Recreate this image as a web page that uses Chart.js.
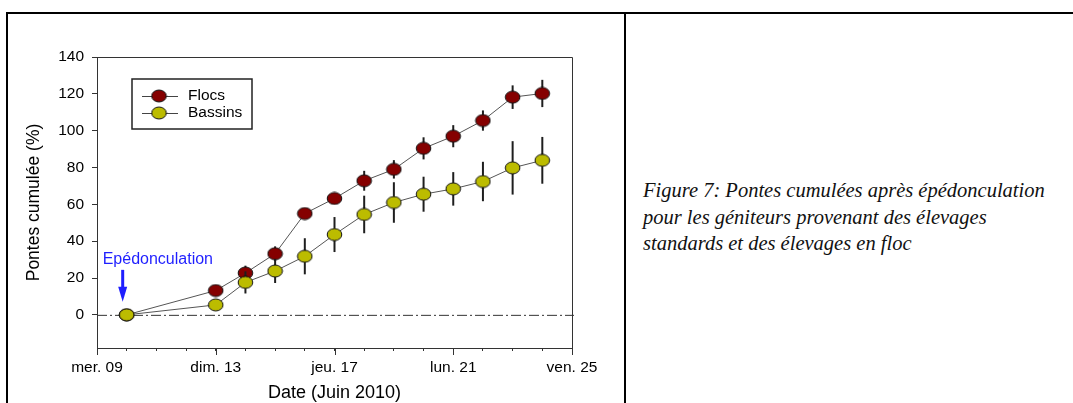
<!DOCTYPE html>
<html lang="fr">
<head>
<meta charset="utf-8">
<title>Pontes cumulées</title>
<script src="https://cdn.jsdelivr.net/npm/chart.js@4.4.1/dist/chart.umd.min.js"></script>
<style>
  html, body { margin: 0; padding: 0; background: #fff; }
  body { width: 1073px; height: 403px; position: relative; overflow: hidden; }
  .rule { position: absolute; background: #000; }
  #rule-top { left: 6px; top: 12px; width: 1067px; height: 2px; }
  #rule-left { left: 6px; top: 12px; width: 2px; height: 391px; }
  #rule-mid { left: 624px; top: 12px; width: 2px; height: 391px; }
  #myChart { position: absolute; left: 0; top: 0; }
  #caption {
    position: absolute; left: 643px; top: 177px;
    font-family: 'Liberation Serif', serif; font-style: italic;
    font-size: 20.5px; line-height: 26.5px; color: #111; white-space: nowrap;
  }
</style>
</head>
<body>
<canvas id="myChart" width="624" height="403"></canvas>
<div class="rule" id="rule-top"></div>
<div class="rule" id="rule-left"></div>
<div class="rule" id="rule-mid"></div>
<div id="caption">Figure 7: Pontes cumulées après épédonculation<br>pour les géniteurs provenant des élevages<br>standards et des élevages en floc</div>

<script>
'use strict';

// jours de juin 2010
let days = [10, 13, 14, 15, 16, 17, 18, 19, 20, 21, 22, 23, 24];

let flocs = [0, 13.2, 22.7, 33.2, 55.0, 63.2, 72.8, 79.0, 90.4, 97.0, 105.5, 118.2, 120.2];
let flocsErr = [0, 3, 4, 4, 2.5, 3, 5.4, 5, 6, 6, 5.5, 6.4, 7.4];

let bassins = [0, 5.4, 17.6, 23.8, 31.8, 43.6, 54.5, 61.0, 65.5, 68.4, 72.4, 79.8, 83.9];
let bassinsErr = [0, 2, 6, 6.5, 9.8, 9.5, 10.2, 11, 9.5, 9.1, 10.7, 14.5, 12.7];

let dayTicks = [9, 13, 17, 21, 25];
let dayLabels = ['mer. 09', 'dim. 13', 'jeu. 17', 'lun. 21', 'ven. 25'];
let yTicks = [0, 20, 40, 60, 80, 100, 120, 140];

let eventDay = 10;
let eventLabel = 'Epédonculation';

const FONT = "'Liberation Sans', Arial, sans-serif";

function makeMarker(fill) {
  let c = document.createElement('canvas');
  c.width = 17;
  c.height = 14;
  let ctx = c.getContext('2d');
  ctx.beginPath();
  ctx.ellipse(8.5, 7, 7.3, 6, 0, 0, Math.PI * 2);
  ctx.fillStyle = fill;
  ctx.fill();
  ctx.lineWidth = 1;
  ctx.strokeStyle = '#111';
  ctx.stroke();
  return c;
}

let flocsMarker = makeMarker('#850000');
let bassinsMarker = makeMarker('#bcbc00');

function toPoints(values) {
  let pts = [];
  for (let i = 0; i < days.length; i++) {
    pts.push({ x: days[i], y: values[i] });
  }
  return pts;
}

// barres d'erreur, tracées juste avant chaque série
const errorBars = {
  id: 'errorBars',
  beforeDatasetDraw(chart, args) {
    let ds = chart.data.datasets[args.index];
    if (!ds.errors) return;
    let ctx = chart.ctx;
    let xs = chart.scales.x;
    let ys = chart.scales.y;
    ctx.save();
    ctx.strokeStyle = '#1e1e1e';
    ctx.lineWidth = 2;
    for (let i = 0; i < days.length; i++) {
      let e = ds.errors[i];
      if (!e) continue;
      let px = xs.getPixelForValue(days[i]);
      ctx.beginPath();
      ctx.moveTo(px, ys.getPixelForValue(ds.values[i] + e));
      ctx.lineTo(px, ys.getPixelForValue(ds.values[i] - e));
      ctx.stroke();
    }
    ctx.restore();
  }
};

// ligne zéro en tirets-points, cadre et graduations principales
const decorations = {
  id: 'decorations',
  beforeDatasetsDraw(chart) {
    let ctx = chart.ctx;
    let area = chart.chartArea;
    let y0 = chart.scales.y.getPixelForValue(0);
    ctx.save();
    ctx.strokeStyle = '#333';
    ctx.lineWidth = 1;
    ctx.setLineDash([10, 3, 2, 3]);
    ctx.beginPath();
    ctx.moveTo(area.left, y0 + 0.5);
    ctx.lineTo(area.right + 2, y0 + 0.5);
    ctx.stroke();
    ctx.restore();
  },
  afterDraw(chart) {
    let ctx = chart.ctx;
    let area = chart.chartArea;
    let xs = chart.scales.x;
    ctx.save();
    ctx.strokeStyle = '#333';
    ctx.lineWidth = 1;
    ctx.beginPath();
    ctx.moveTo(area.left, area.top + 0.5);
    ctx.lineTo(area.right + 0.5, area.top + 0.5);
    ctx.lineTo(area.right + 0.5, area.bottom);
    ctx.stroke();
    ctx.beginPath();
    dayTicks.forEach(function (d) {
      let px = Math.round(xs.getPixelForValue(d)) + 0.5;
      ctx.moveTo(px, area.bottom);
      ctx.lineTo(px, area.bottom + 7);
    });
    ctx.stroke();
    ctx.restore();
  }
};

// flèche et texte du jour d'épédonculation
const eventMark = {
  id: 'eventMark',
  afterDatasetsDraw(chart) {
    let ctx = chart.ctx;
    let px = chart.scales.x.getPixelForValue(eventDay) - 4;
    let y0 = chart.scales.y.getPixelForValue(0);
    ctx.save();
    ctx.fillStyle = '#1f1fff';
    ctx.strokeStyle = '#1f1fff';
    ctx.font = '16px ' + FONT;
    ctx.textBaseline = 'middle';
    ctx.textAlign = 'left';
    ctx.fillText(eventLabel, px - 20, y0 - 55);
    ctx.lineWidth = 3;
    ctx.beginPath();
    ctx.moveTo(px, y0 - 45);
    ctx.lineTo(px, y0 - 25);
    ctx.stroke();
    ctx.beginPath();
    ctx.moveTo(px - 4.5, y0 - 28);
    ctx.lineTo(px + 4.5, y0 - 28);
    ctx.lineTo(px, y0 - 13);
    ctx.closePath();
    ctx.fill();
    ctx.restore();
  }
};

// légende encadrée dans la zone du graphique
const boxLegend = {
  id: 'boxLegend',
  afterDraw(chart) {
    let ctx = chart.ctx;
    let area = chart.chartArea;
    let bx = area.left + 35;
    let by = area.top + 22;
    ctx.save();
    ctx.strokeStyle = '#222';
    ctx.lineWidth = 1.5;
    ctx.strokeRect(bx, by, 120, 50);
    ctx.font = '15.5px ' + FONT;
    ctx.textBaseline = 'middle';
    ctx.fillStyle = '#000';
    let entries = [chart.data.datasets[1], chart.data.datasets[0]];
    entries.forEach(function (ds, i) {
      let ly = by + 17 + i * 17;
      ctx.strokeStyle = '#444';
      ctx.lineWidth = 1;
      ctx.beginPath();
      ctx.moveTo(bx + 10, ly + 0.5);
      ctx.lineTo(bx + 46, ly + 0.5);
      ctx.stroke();
      let m = ds.pointStyle;
      ctx.drawImage(m, bx + 27 - m.width / 2, ly - m.height / 2);
      ctx.fillText(ds.label, bx + 56, ly);
    });
    ctx.restore();
  }
};

const data = {
  datasets: [
    {
      label: 'Bassins',
      data: toPoints(bassins),
      values: bassins,
      errors: bassinsErr,
      borderColor: '#555',
      borderWidth: 1,
      pointStyle: bassinsMarker,
      order: 1
    },
    {
      label: 'Flocs',
      data: toPoints(flocs),
      values: flocs,
      errors: flocsErr,
      borderColor: '#555',
      borderWidth: 1,
      pointStyle: flocsMarker,
      order: 2
    }
  ]
};

const config = {
  type: 'line',
  data: data,
  options: {
    responsive: false,
    animation: false,
    devicePixelRatio: 1,
    layout: {
      padding: { left: 20, top: 57, right: 52, bottom: 0 }
    },
    plugins: {
      legend: { display: false },
      tooltip: { enabled: false }
    },
    scales: {
      x: {
        type: 'linear',
        min: 9,
        max: 25,
        afterFit(scale) { scale.height = 55; },
        afterBuildTicks(scale) {
          let t = [];
          for (let d = 9; d <= 25; d++) t.push({ value: d });
          scale.ticks = t;
        },
        grid: { drawOnChartArea: false, tickLength: 3, tickColor: '#333' },
        border: { color: '#333', width: 1 },
        ticks: {
          padding: 7,
          maxRotation: 0,
          autoSkip: false,
          color: '#000',
          font: { family: FONT, size: 15.5 },
          callback(value) {
            let k = dayTicks.indexOf(value);
            return k >= 0 ? dayLabels[k] : '';
          }
        },
        title: {
          display: true,
          text: 'Date (Juin 2010)',
          color: '#000',
          font: { family: FONT, size: 18 },
          padding: { top: 0, bottom: -1 }
        }
      },
      y: {
        min: -18,
        max: 140,
        afterFit(scale) { scale.width = 77; },
        afterBuildTicks(scale) {
          scale.ticks = yTicks.map(v => ({ value: v }));
        },
        grid: { drawOnChartArea: false, tickLength: 5, tickColor: '#333' },
        border: { color: '#333', width: 1 },
        ticks: {
          padding: 8,
          color: '#000',
          font: { family: FONT, size: 15.5 }
        },
        title: {
          display: true,
          text: 'Pontes cumulée (%)',
          color: '#000',
          font: { family: FONT, size: 17.5 }
        }
      }
    }
  },
  plugins: [errorBars, decorations, eventMark, boxLegend]
};

const myChart = new Chart(document.getElementById('myChart'), config);
</script>
</body>
</html>
